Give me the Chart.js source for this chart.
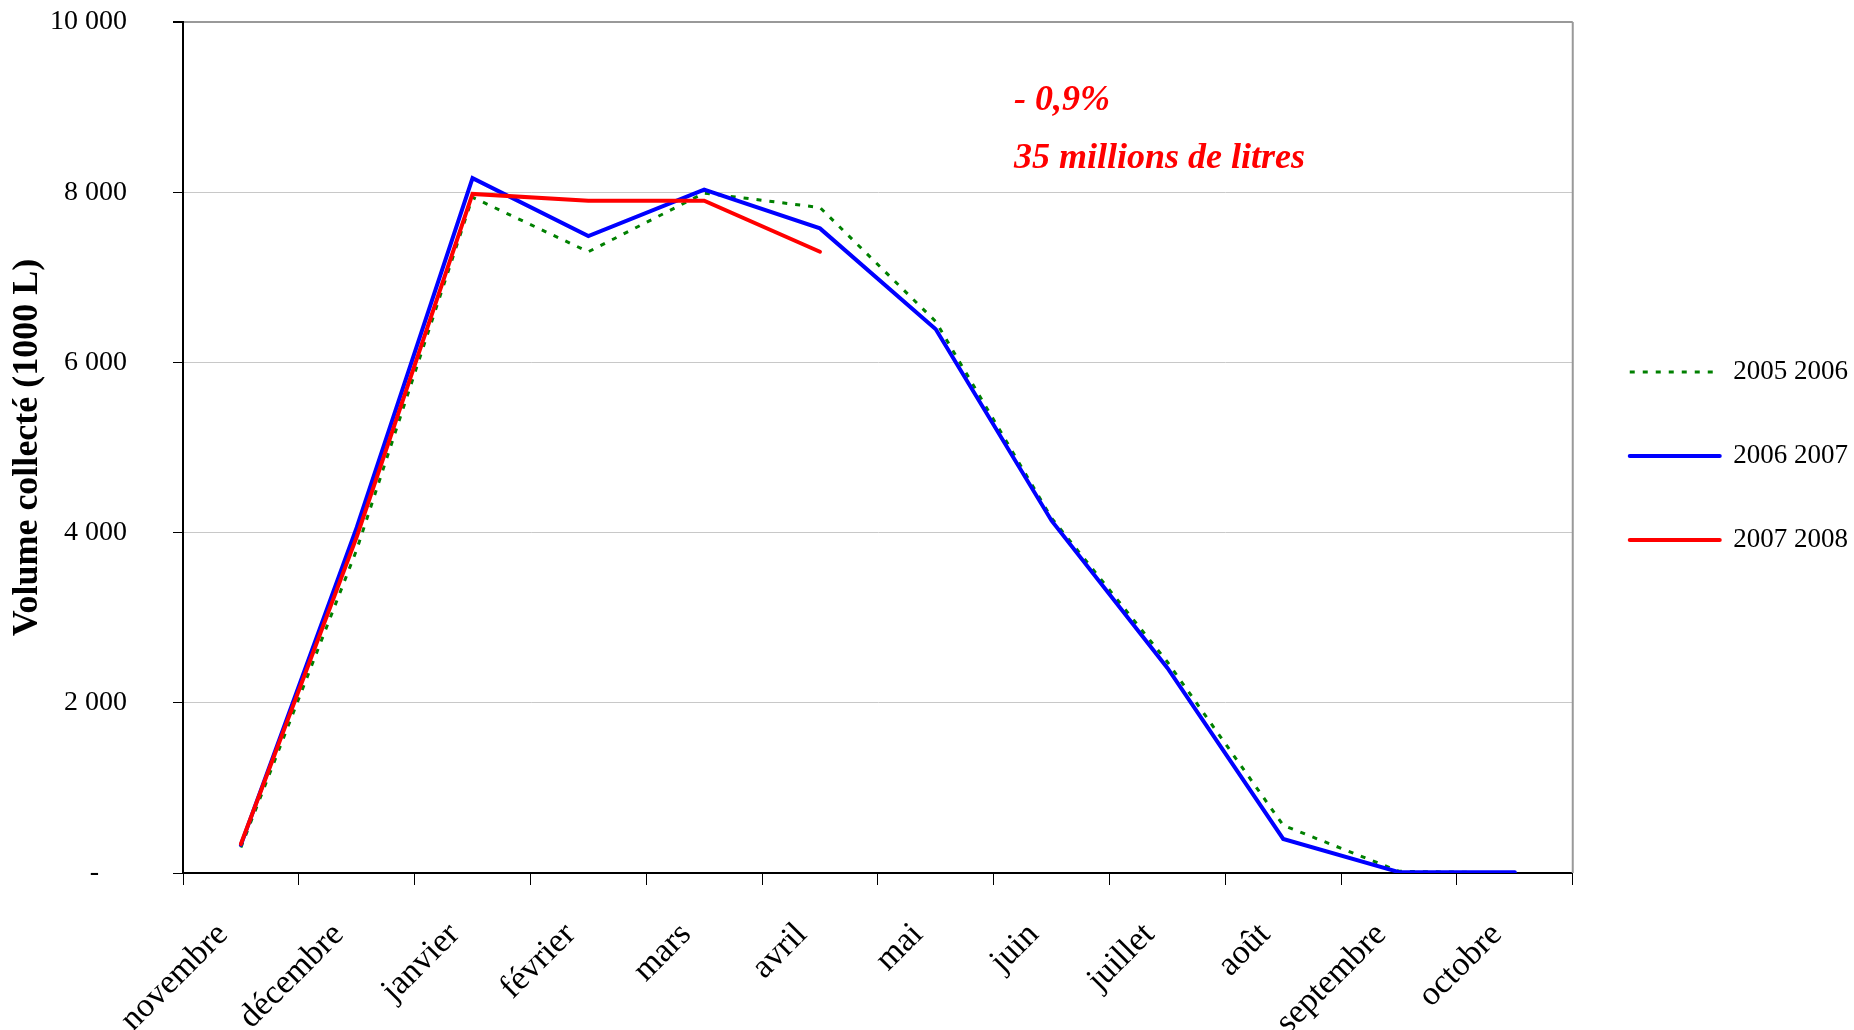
<!DOCTYPE html>
<html>
<head>
<meta charset="utf-8">
<script src="https://cdn.jsdelivr.net/npm/chart.js@4/dist/chart.umd.min.js"></script>
<style>
  html, body { margin: 0; padding: 0; background: #fff; }
  #wrap { width: 1854px; height: 1030px; position: relative; }
</style>
</head>
<body>
<div id="wrap"><canvas id="chart"></canvas></div>
<script>
const months = ["novembre", "décembre", "janvier", "février", "mars", "avril",
    "mai", "juin", "juillet", "août", "septembre", "octobre"];
const vol0506 = [300, 3800, 7940, 7300, 7990, 7820, 6480, 4170, 2480, 560, 20, 0];
const vol0607 = [330, 4060, 8165, 7485, 8030, 7575, 6390, 4140, 2410, 400, 10, 10];
const vol0708 = [340, 3950, 7980, 7900, 7900, 7300, null, null, null, null, null, null];
const seriesNames = ["2005 2006", "2006 2007", "2007 2008"];
const yTicks = [0, 2000, 4000, 6000, 8000, 10000];
const notes = ["- 0,9%", "35 millions de litres"];

const SERIF = '"Liberation Serif", "Times New Roman", serif';

function fmt(v) {
    if (v === 0) return "-    ";
    return String(v).replace(/\B(?=(\d{3})+(?!\d))/g, " ");
}

// red notes + grey right border of the plot area
const notesPlugin = {
    id: "notes",
    afterDraw(chart) {
        const { ctx, chartArea } = chart;
        ctx.save();
        ctx.strokeStyle = "#999";
        ctx.lineWidth = 2;
        ctx.beginPath();
        ctx.moveTo(chartArea.right, chartArea.top);
        ctx.lineTo(chartArea.right, chartArea.bottom);
        ctx.stroke();
        ctx.fillStyle = "#ff0000";
        ctx.font = "italic bold 36px " + SERIF;
        ctx.textBaseline = "alphabetic";
        notes.forEach((t, i) => ctx.fillText(t, 1014, 110 + i * 58));
        ctx.restore();
    },
};

// legend lines keep the dataset's dash and width
function legendLabels(chart) {
    const items = Chart.defaults.plugins.legend.labels.generateLabels(chart);
    items.forEach((it) => {
        const ds = chart.data.datasets[it.datasetIndex];
        it.lineDash = ds.borderDash || [];
        it.lineWidth = ds.borderWidth;
        it.lineCap = ds.borderCapStyle || "butt";
        it.strokeStyle = ds.borderColor;
    });
    return items;
}

const ctx = document.getElementById("chart").getContext("2d");
new Chart(ctx, {
    type: "line",
    data: {
        labels: months,
        datasets: [
            {
                label: seriesNames[0],
                data: vol0506,
                borderColor: "#008000",
                backgroundColor: "#008000",
                borderWidth: 3,
                borderDash: [5, 8],
                pointRadius: 0,
                tension: 0,
                order: 3,
            },
            {
                label: seriesNames[1],
                data: vol0607,
                borderColor: "#0000ff",
                backgroundColor: "#0000ff",
                borderWidth: 4,
                borderCapStyle: "round",
                pointRadius: 0,
                tension: 0,
                order: 2,
            },
            {
                label: seriesNames[2],
                data: vol0708,
                borderColor: "#ff0000",
                backgroundColor: "#ff0000",
                borderWidth: 4,
                borderCapStyle: "round",
                pointRadius: 0,
                tension: 0,
                order: 1,
            },
        ],
    },
    options: {
        responsive: true,
        maintainAspectRatio: false,
        animation: false,
        layout: { padding: { top: 22, right: -4, bottom: 0, left: 0 } },
        plugins: {
            tooltip: { enabled: false },
            legend: {
                position: "right",
                fullSize: false,
                title: { display: true, text: " ", font: { size: 1 }, padding: 8 },
                labels: {
                    usePointStyle: true,
                    pointStyle: "line",
                    pointStyleWidth: 90,
                    boxWidth: 90,
                    padding: 57,
                    color: "#000",
                    font: { family: SERIF, size: 27 },
                    generateLabels: legendLabels,
                    sort: (a, b) => a.datasetIndex - b.datasetIndex,
                },
            },
        },
        scales: {
            x: {
                offset: true,
                afterFit: (scale) => { scale.height = 157; },
                border: { color: "#000", width: 2 },
                grid: {
                    offset: true,
                    drawOnChartArea: false,
                    drawTicks: true,
                    tickLength: 12,
                    tickColor: "#000",
                },
                ticks: {
                    color: "#000",
                    font: { family: SERIF, size: 34 },
                    minRotation: 45,
                    maxRotation: 45,
                    autoSkip: false,
                    padding: 30,
                    labelOffset: -18,
                },
            },
            y: {
                min: 0,
                max: 10000,
                afterFit: (scale) => {
                    scale.width = 183;
                    scale.paddingTop = 0;
                    scale.paddingBottom = 0;
                },
                afterBuildTicks: (scale) => {
                    scale.ticks = yTicks.map((v) => ({ value: v }));
                },
                border: { color: "#000", width: 2 },
                grid: {
                    color: (c) => (c.tick && c.tick.value === 10000 ? "#999" : "#c8c8c8"),
                    lineWidth: (c) => (c.tick && c.tick.value === 10000 ? 2 : 1),
                    tickColor: "#000",
                    tickLength: 10,
                },
                ticks: {
                    color: "#000",
                    font: { family: SERIF, size: 28 },
                    padding: 46,
                    callback: (v) => fmt(v),
                },
                title: {
                    display: true,
                    text: "Volume collecté (1000 L)",
                    color: "#000",
                    font: { family: SERIF, size: 36, weight: "bold" },
                    padding: { top: 6, bottom: 0 },
                },
            },
        },
    },
    plugins: [notesPlugin],
});
</script>
</body>
</html>
